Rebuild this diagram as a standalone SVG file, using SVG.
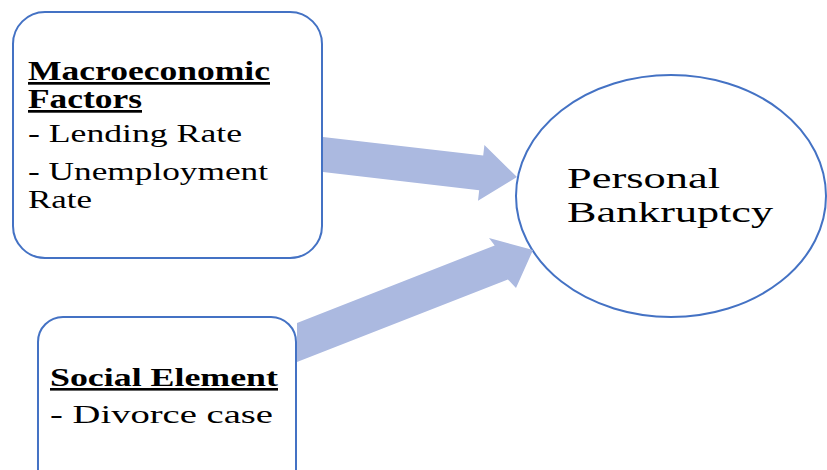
<svg xmlns="http://www.w3.org/2000/svg" width="827" height="470" viewBox="0 0 827 470">
<style>
.node{fill:#ffffff;stroke:#4472c4;stroke-width:2}
.arrow{fill:#abb9e0;stroke:none}
text{font-family:"Liberation Serif","Times New Roman",serif;fill:#000000}
.h{font-weight:bold;text-decoration:underline}
</style>
<rect width="827" height="470" fill="#ffffff"/>
<g id="macro">
<rect class="node" x="13" y="12" width="309" height="246" rx="32" ry="32"/>
<text class="h" x="28" y="80" font-size="27" textLength="242" lengthAdjust="spacingAndGlyphs">Macroeconomic</text>
<text class="h" x="28" y="108" font-size="27" textLength="114" lengthAdjust="spacingAndGlyphs">Factors</text>
<text x="28" y="142" font-size="26" textLength="214" lengthAdjust="spacingAndGlyphs">- Lending Rate</text>
<text x="28" y="180" font-size="26" textLength="240" lengthAdjust="spacingAndGlyphs">- Unemployment</text>
<text x="28" y="208" font-size="26" textLength="64" lengthAdjust="spacingAndGlyphs">Rate</text>
</g>
<g id="social">
<rect class="node" x="38" y="317" width="258" height="180" rx="25" ry="25"/>
<text class="h" x="50" y="386" font-size="26" textLength="228" lengthAdjust="spacingAndGlyphs">Social Element</text>
<text x="50" y="423" font-size="26" textLength="223" lengthAdjust="spacingAndGlyphs">- Divorce case</text>
</g>
<g id="bankruptcy">
<ellipse class="node" cx="671" cy="196" rx="155" ry="121"/>
<text x="567" y="188" font-size="30" textLength="153" lengthAdjust="spacingAndGlyphs">Personal</text>
<text x="567" y="222" font-size="30" textLength="206" lengthAdjust="spacingAndGlyphs">Bankruptcy</text>
</g>
<g id="connectors">
<polygon class="arrow" points="323,137 483.2,155.5 484.4,145.1 517,177 478,200.7 479.2,190.3 323,172"/>
<polygon class="arrow" points="297,323 494.7,245.4 489,238 533,250 516,288 507.9,279.4 297,362"/>
</g>
</svg>
